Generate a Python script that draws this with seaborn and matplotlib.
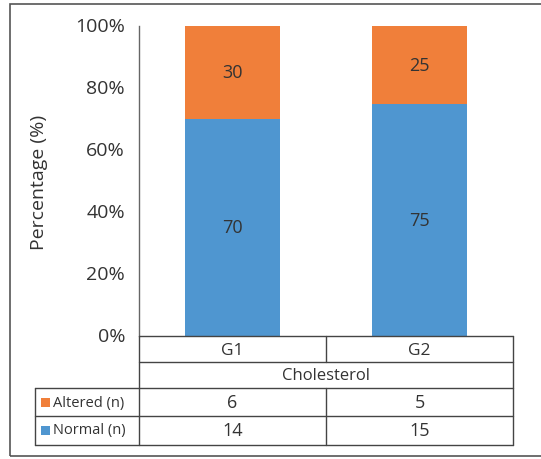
import matplotlib
matplotlib.use("Agg")
import matplotlib.pyplot as plt
import seaborn as sns
import pandas as pd
from matplotlib.patches import Rectangle
from matplotlib.lines import Line2D
from matplotlib.transforms import ScaledTranslation

groups = ["G1", "G2"]
normal_pct = [70, 75]
altered_pct = [30, 25]
altered_n = [6, 5]
normal_n = [14, 15]
yticks = [0, 20, 40, 60, 80, 100]
xlabel = "Cholesterol"
ylabel = "Percentage (%)"

BLUE = "#4F96D0"
ORANGE = "#F07F3A"
TXT = "#333333"

sns.set_theme(style="white")
plt.rcParams["font.family"] = ["Open Sans", "DejaVu Sans"]

W, H = 541, 460
fig = plt.figure(figsize=(W / 100, H / 100), dpi=100)

def fx(px):
    return px / W

def fy(py):
    return 1 - py / H

# outer border
fig.patches.append(Rectangle((fx(10), fy(457)), fx(541) - fx(10) + 0.01, fy(5) - fy(457),
                             transform=fig.transFigure, fill=False, edgecolor="#555555", lw=1.2))

L, R, T, B = 139, 513, 27, 337
ax = fig.add_axes([fx(L), fy(B), fx(R) - fx(L), fy(T) - fy(B)])

df = pd.DataFrame({"group": groups, "normal": normal_pct, "altered": altered_pct})
df["total"] = df["normal"] + df["altered"]

sns.barplot(data=df, x="group", y="total", color=ORANGE, width=0.51, ax=ax, saturation=1, linewidth=0)
sns.barplot(data=df, x="group", y="normal", color=BLUE, width=0.51, ax=ax, saturation=1, linewidth=0)

for i, row in df.iterrows():
    ax.text(i, row["normal"] / 2, f"{row['normal']}", ha="center", va="center", fontsize=13, color=TXT)
    ax.text(i, row["normal"] + row["altered"] / 2, f"{row['altered']}", ha="center", va="center",
            fontsize=13, color=TXT)

ax.set_ylim(0, 100)
ax.set_xlim(-0.5, 1.5)
ax.set_yticks(yticks)
ax.set_yticklabels([f"{v}%" for v in yticks], fontsize=14, color=TXT, va="center")
for lab in ax.get_yticklabels():
    lab.set_transform(lab.get_transform() + ScaledTranslation(0, 3 / 100, fig.dpi_scale_trans))
ax.tick_params(axis="y", length=0, pad=10)
ax.set_xticks([])
ax.set_xlabel("")
ax.set_ylabel(ylabel, fontsize=14, color=TXT)
ax.yaxis.set_label_coords((48 - L) / (R - L), 0.5)
for s in ["top", "right", "bottom"]:
    ax.spines[s].set_visible(False)
ax.spines["left"].set_color("#666666")
ax.spines["left"].set_linewidth(1.0)

# data table below
lc = "#444444"
def hline(x0, x1, y):
    fig.add_artist(Line2D([fx(x0), fx(x1)], [fy(y), fy(y)], transform=fig.transFigure, color=lc, lw=1.0))

def vline(x, y0, y1):
    fig.add_artist(Line2D([fx(x), fx(x)], [fy(y0), fy(y1)], transform=fig.transFigure, color=lc, lw=1.0))

mid = (L + R) / 2
hline(L, R, 337)
hline(L, R, 363)
hline(35, R, 389)
hline(35, R, 417)
hline(35, R, 446)
vline(L, 337, 446)
vline(R, 337, 446)
vline(mid, 337, 363)
vline(mid, 389, 446)
vline(35, 389, 446)

cx = [(L + mid) / 2, (mid + R) / 2]
for i, g in enumerate(groups):
    fig.text(fx(cx[i]), fy(351), g, ha="center", va="center", fontsize=12.5, color=TXT)
fig.text(fx(mid), fy(376), xlabel, ha="center", va="center", fontsize=12, color=TXT)

legend_rows = [("Altered (n)", ORANGE, altered_n, 403), ("Normal (n)", BLUE, normal_n, 431)]
for label, col, vals, yy in legend_rows:
    fig.patches.append(Rectangle((fx(41), fy(yy + 4.5)), fx(9), fy(0) - fy(9),
                                 transform=fig.transFigure, facecolor=col, edgecolor="none"))
    fig.text(fx(53), fy(yy), label, ha="left", va="center", fontsize=10.5, color=TXT)
    for i, v in enumerate(vals):
        fig.text(fx(cx[i]), fy(yy), str(v), ha="center", va="center", fontsize=13, color=TXT)

fig.savefig("out.png", dpi=100, facecolor="white")
